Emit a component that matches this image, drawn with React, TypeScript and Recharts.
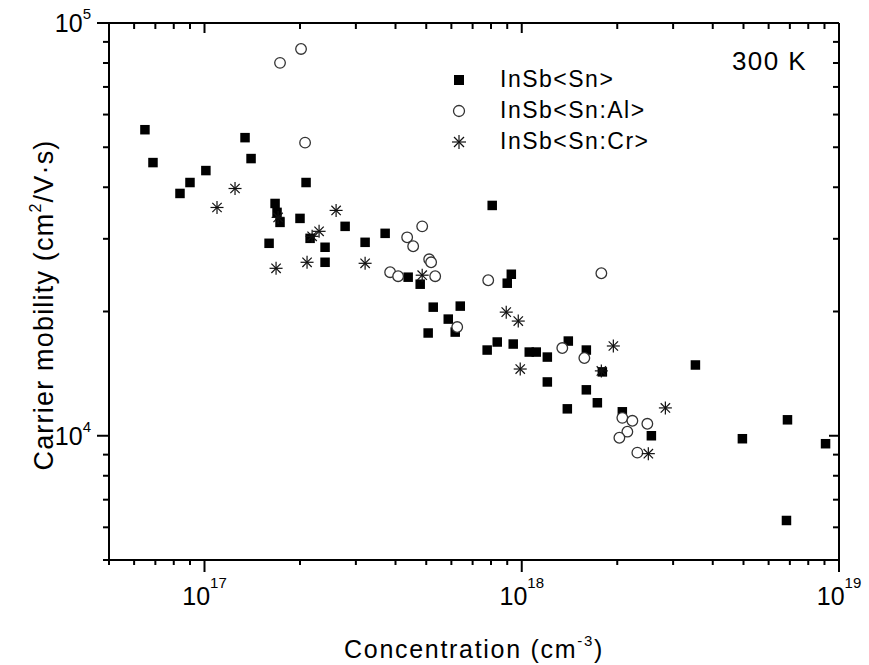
import React from 'react';
import { ScatterChart, Scatter, XAxis, YAxis, Legend, Customized } from 'recharts';

const FONT = '"Liberation Sans", Arial, Helvetica, sans-serif';

// Axis ticks (major decades + minor ticks)
const X_TICKS = [
  5e16, 6e16, 7e16, 8e16, 9e16,
  1e17, 2e17, 3e17, 4e17, 5e17, 6e17, 7e17, 8e17, 9e17,
  1e18, 2e18, 3e18, 4e18, 5e18, 6e18, 7e18, 8e18, 9e18,
  1e19,
];
const Y_TICKS = [
  5000, 6000, 7000, 8000, 9000,
  10000, 20000, 30000, 40000, 50000, 60000, 70000, 80000, 90000,
  100000,
];
const X_DOMAIN = [5e16, 1e19];
const Y_DOMAIN = [5000, 100000];

// InSb<Sn>  (filled squares)
const SN_CONC = [
  6.49e16, 6.88e16, 8.37e16, 9.0e16, 1.01e17, 1.342e17, 1.402e17, 1.669e17, 1.693e17, 1.73e17,
  1.598e17, 2.09e17, 2.0e17, 2.152e17, 2.399e17, 2.399e17, 2.775e17, 3.208e17, 3.71e17, 4.385e17,
  4.785e17, 8.07e17, 9.27e17, 9.0e17, 5.26e17, 6.4e17, 5.866e17, 5.07e17, 6.17e17, 7.78e17,
  8.37e17, 9.4e17, 1.056e18, 1.111e18, 1.204e18, 1.402e18, 1.598e18, 1.795e18, 1.204e18, 1.598e18,
  1.731e18, 1.392e18, 2.075e18, 2.562e18, 3.527e18, 4.96e18, 6.88e18, 9.07e18, 6.83e18,
];
const SN_MOB = [
  55140, 45900, 38640, 41070, 43900, 52750, 46940, 36540, 34770, 32880,
  29260, 41070, 33620, 30080, 28620, 26320, 32160, 29420, 30930, 24220,
  23290, 36140, 24620, 23420, 20490, 20610, 19170, 17740, 17830, 16130,
  16870, 16680, 15950, 15950, 15510, 16960, 16130, 14280, 13500, 12920,
  12020, 11620, 11430, 10000, 14840, 9835, 10930, 9565, 6233,
];

// InSb<Sn:Al>  (open circles)
const AL_CONC = [
  1.73e17, 2.015e17, 2.075e17, 4.855e17, 4.353e17, 4.547e17, 5.107e17, 5.18e17, 3.847e17, 4.077e17,
  5.335e17, 7.84e17, 1.782e18, 6.26e17, 1.342e18, 1.575e18, 2.075e18, 2.232e18, 2.152e18, 2.031e18,
  2.488e18, 2.314e18,
];
const AL_MOB = [
  80060, 86530, 51300, 32160, 30250, 28780, 26760, 26320, 24900, 24350,
  24350, 23810, 24760, 18340, 16310, 15430, 11050, 10870, 10230, 9890,
  10690, 9100,
];

// InSb<Sn:Cr>  (asterisks)
const CR_CONC = [
  1.248e17, 1.095e17, 2.599e17, 2.297e17, 2.184e17, 1.706e17, 1.681e17, 2.105e17, 3.208e17, 4.855e17,
  8.935e17, 9.75e17, 9.89e17, 1.782e18, 1.944e18, 2.836e18, 2.506e18,
];
const CR_MOB = [
  39720, 35730, 35150, 31280, 30420, 33810, 25450, 26320, 26170, 24490,
  19930, 18960, 14510, 14360, 16500, 11680, 9050,
];

const SERIES_NAMES = ['InSb<Sn>', 'InSb<Sn:Al>', 'InSb<Sn:Cr>'];

const toPoints = (xs: number[], ys: number[]) => xs.map((x, i) => ({ x, y: ys[i] }));
const snData = toPoints(SN_CONC, SN_MOB);
const alData = toPoints(AL_CONC, AL_MOB);
const crData = toPoints(CR_CONC, CR_MOB);

const isMajor = (v: number) => {
  const lg = Math.log10(v);
  return Math.abs(lg - Math.round(lg)) < 1e-6;
};

const BottomTick = (props: any) => {
  const { x, y, payload } = props;
  const v = payload.value;
  const major = isMajor(v);
  return (
    <g>
      <line x1={x} y1={y} x2={x} y2={y + (major ? 12 : 5)} stroke="#000" strokeWidth={2} />
      {major && (
        <text x={x} y={y + 45} textAnchor="middle" fontFamily={FONT} fontSize={25} fill="#000">
          <tspan>10</tspan>
          <tspan dy={-17} fontSize={15}>{Math.round(Math.log10(v))}</tspan>
        </text>
      )}
    </g>
  );
};

const TopTick = (props: any) => {
  const { x, y, payload } = props;
  const major = isMajor(payload.value);
  return <line x1={x} y1={y} x2={x} y2={y + (major ? 10 : 6)} stroke="#000" strokeWidth={2} />;
};

const LeftTick = (props: any) => {
  const { x, y, payload } = props;
  const v = payload.value;
  const major = isMajor(v);
  return (
    <g>
      <line x1={x} y1={y} x2={x - (major ? 12 : 6)} y2={y} stroke="#000" strokeWidth={2} />
      {major && (
        <text x={x - 18} y={y + 9} textAnchor="end" fontFamily={FONT} fontSize={25} fill="#000">
          <tspan>10</tspan>
          <tspan dy={-13} fontSize={15}>{Math.round(Math.log10(v))}</tspan>
        </text>
      )}
    </g>
  );
};

const RightTick = (props: any) => {
  const { x, y, payload } = props;
  const major = isMajor(payload.value);
  return <line x1={x} y1={y} x2={x - (major ? 10 : 6)} y2={y} stroke="#000" strokeWidth={2} />;
};

const SquareShape = (p: any) => (
  <rect x={p.cx - 4.75} y={p.cy - 4.75} width={9.5} height={9.5} fill="#000" />
);
const CircleShape = (p: any) => (
  <circle cx={p.cx} cy={p.cy} r={5.3} fill="#fff" stroke="#333" strokeWidth={1.3} />
);
const StarShape = (p: any) => {
  const r = 6.5;
  const d = r * 0.72;
  const { cx, cy } = p;
  return (
    <g stroke="#111" strokeWidth={1.2}>
      <line x1={cx} y1={cy - r} x2={cx} y2={cy + r} />
      <line x1={cx - r} y1={cy} x2={cx + r} y2={cy} />
      <line x1={cx - d} y1={cy - d} x2={cx + d} y2={cy + d} />
      <line x1={cx - d} y1={cy + d} x2={cx + d} y2={cy - d} />
    </g>
  );
};

const LegendMarker = ({ i }: { i: number }) => (
  <svg width={20} height={20} style={{ display: 'block' }}>
    {i === 0 && <rect x={5} y={5} width={10} height={10} fill="#000" />}
    {i === 1 && <circle cx={10} cy={10} r={5.5} fill="#fff" stroke="#333" strokeWidth={1.3} />}
    {i === 2 && (
      <g stroke="#111" strokeWidth={1.2}>
        <line x1={10} y1={3} x2={10} y2={17} />
        <line x1={3} y1={10} x2={17} y2={10} />
        <line x1={5} y1={5} x2={15} y2={15} />
        <line x1={5} y1={15} x2={15} y2={5} />
      </g>
    )}
  </svg>
);

const LegendContent = () => (
  <div style={{ fontFamily: FONT, fontSize: 23, letterSpacing: 1.5, color: '#000' }}>
    {SERIES_NAMES.map((name, i) => (
      <div key={name} style={{ display: 'flex', alignItems: 'center', height: 31 }}>
        <LegendMarker i={i} />
        <span style={{ marginLeft: 31, lineHeight: '31px', whiteSpace: 'nowrap' }}>{name}</span>
      </div>
    ))}
  </div>
);

const Texts = () => (
  <g fontFamily={FONT} fill="#000">
    <text x={732} y={70} fontSize={26} letterSpacing={1.4}>300 K</text>
    <text x={474} y={658} textAnchor="middle" fontSize={25} letterSpacing={1.7}>
      <tspan>Concentration (cm</tspan>
      <tspan dy={-12} fontSize={15}>-3</tspan>
      <tspan dy={12}>)</tspan>
    </text>
    <text x={53} y={305} transform="rotate(-90, 53, 305)" textAnchor="middle" fontSize={27} letterSpacing={1.2}>
      <tspan>Carrier mobility (cm</tspan>
      <tspan dy={-12} fontSize={16}>2</tspan>
      <tspan dy={12}>/V·s)</tspan>
    </text>
  </g>
);

export default function App() {
  return (
    <div style={{ position: 'absolute', left: 0, top: 0, width: 869, height: 665, background: '#fff' }}>
      <ScatterChart width={869} height={665} margin={{ top: 0, right: 0, bottom: 0, left: 0 }}>
        <XAxis
          xAxisId="b"
          dataKey="x"
          type="number"
          scale="log"
          domain={X_DOMAIN}
          allowDataOverflow
          ticks={X_TICKS}
          interval={0}
          tick={<BottomTick />}
          tickLine={false}
          tickSize={0}
          tickMargin={0}
          axisLine={{ stroke: '#000', strokeWidth: 2 }}
          height={105}
        />
        <XAxis
          xAxisId="t"
          orientation="top"
          dataKey="x"
          type="number"
          scale="log"
          domain={X_DOMAIN}
          allowDataOverflow
          ticks={X_TICKS}
          interval={0}
          tick={<TopTick />}
          tickLine={false}
          tickSize={0}
          tickMargin={0}
          axisLine={{ stroke: '#000', strokeWidth: 2 }}
          height={23}
        />
        <YAxis
          yAxisId="l"
          dataKey="y"
          type="number"
          scale="log"
          domain={Y_DOMAIN}
          allowDataOverflow
          ticks={Y_TICKS}
          interval={0}
          tick={<LeftTick />}
          tickLine={false}
          tickSize={0}
          tickMargin={0}
          axisLine={{ stroke: '#000', strokeWidth: 2 }}
          width={109}
        />
        <YAxis
          yAxisId="r"
          orientation="right"
          dataKey="y"
          type="number"
          scale="log"
          domain={Y_DOMAIN}
          allowDataOverflow
          ticks={Y_TICKS}
          interval={0}
          tick={<RightTick />}
          tickLine={false}
          tickSize={0}
          tickMargin={0}
          axisLine={{ stroke: '#000', strokeWidth: 2 }}
          width={30}
        />
        <Scatter name={SERIES_NAMES[0]} data={snData} xAxisId="b" yAxisId="l" shape={SquareShape} isAnimationActive={false} />
        <Scatter name={SERIES_NAMES[1]} data={alData} xAxisId="b" yAxisId="l" shape={CircleShape} isAnimationActive={false} />
        <Scatter name={SERIES_NAMES[2]} data={crData} xAxisId="b" yAxisId="l" shape={StarShape} isAnimationActive={false} />
        <Legend
          layout="vertical"
          align="center"
          verticalAlign="middle"
          content={<LegendContent />}
          wrapperStyle={{ left: 449, top: 64, width: 240 }}
        />
        <Customized component={Texts} />
      </ScatterChart>
    </div>
  );
}
